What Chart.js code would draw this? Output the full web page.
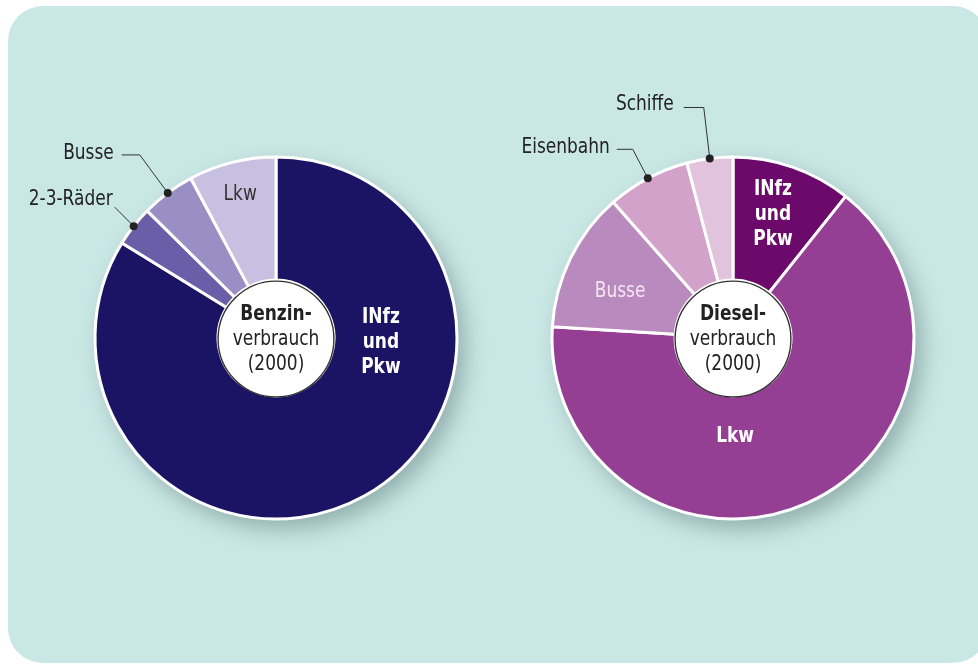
<!DOCTYPE html>
<html>
<head>
<meta charset="utf-8">
<script src="https://cdn.jsdelivr.net/npm/chart.js@4/dist/chart.umd.min.js"></script>
<style>
  html, body { margin:0; padding:0; background:#fff; }
  body { width:978px; height:664px; position:relative; overflow:hidden; }
  .panel { position:absolute; left:8px; top:6px; width:980px; height:657px; background:#c9e7e5; border-radius:35px; }
  .pie { position:absolute; top:58px; width:560px; height:560px; }
  #pieBenzin { left:-4px; }
  #pieDiesel { left:453px; }
</style>
</head>
<body>
<div class="panel"></div>
<div class="pie" id="pieBenzin"><canvas id="benzin"></canvas></div>
<div class="pie" id="pieDiesel"><canvas id="diesel"></canvas></div>
<script>
// ---- Daten (Anteile in %) ----
const benzinLabels = ['INfz und Pkw', '2-3-Räder', 'Busse', 'Lkw'];
const benzinValues = [83.8, 3.6, 4.8, 7.8];
const benzinColors = ['#1b1464', '#6b5ea8', '#9a8fc4', '#c8c0e0'];

const dieselLabels = ['INfz und Pkw', 'Lkw', 'Busse', 'Eisenbahn', 'Schiffe'];
const dieselValues = [10.7, 65.3, 12.5, 7.4, 4.1];
const dieselColors = ['#6b0a6b', '#943e94', '#b98abd', '#d2a2ca', '#e2c3dd'];

const FONT = '"Liberation Sans Narrow", "DejaVu Sans Condensed", "Roboto", sans-serif';
const SQUEEZE = 0.9;   // schmalere Schrift nachahmen

// Beschriftung je Segment: inside = [Winkel°, Radius] ab Mitte, outside = Führungslinie
const benzinText = [
  {inside:[92.7, 105], lines:['INfz','und','Pkw'], bold:true, color:'#fff'},
  {outside:{elbow:[-19,-19], end:[-19,-19], gap:2, dy:-8}, text:'2-3-Räder'},
  {outside:{elbow:[-28,-38], end:[-46,-38], gap:8, dy:-1}, text:'Busse'},
  {inside:[-14, 148], lines:['Lkw'], bold:false, color:'#333'}
];
const dieselText = [
  {inside:[17.9, 130], lines:['INfz','und','Pkw'], bold:true, color:'#fff'},
  {inside:[178.8, 99], lines:['Lkw'], bold:true, color:'#fff'},
  {inside:[-67.8, 122], lines:['Busse'], bold:false, color:'#f3e6f2'},
  {outside:{elbow:[-15,-29], end:[-31,-29], gap:7, dy:-2}, text:'Eisenbahn'},
  {outside:{elbow:[-6,-51], end:[-26,-51], gap:10, dy:-3}, text:'Schiffe'}
];

function drawText(ctx, txt, x, y, align, bold, color) {
  ctx.save();
  ctx.translate(x, y);
  ctx.scale(SQUEEZE, 1);
  ctx.font = (bold ? 'bold ' : '') + '21px ' + FONT;
  ctx.textAlign = align;
  ctx.textBaseline = 'middle';
  ctx.fillStyle = color;
  ctx.fillText(txt, 0, 0);
  ctx.restore();
}

function labelPlugin(texts, centerLines) {
  return {
    id:'labels',
    beforeDatasetsDraw(chart) {
      const arc = chart.getDatasetMeta(0).data[0];
      const ctx = chart.ctx;
      ctx.save();
      ctx.shadowColor = 'rgba(40,70,70,0.35)';
      ctx.shadowBlur = 22;
      ctx.shadowOffsetX = 8;
      ctx.shadowOffsetY = 10;
      ctx.fillStyle = '#fff';
      ctx.beginPath();
      ctx.arc(arc.x, arc.y, arc.outerRadius, 0, Math.PI*2);
      ctx.fill();
      ctx.restore();
    },
    afterDatasetsDraw(chart) {
      const ctx = chart.ctx;
      const arcs = chart.getDatasetMeta(0).data;
      const cx = arcs[0].x, cy = arcs[0].y;
      ctx.save();
      texts.forEach((t, i) => {
        const a = arcs[i];
        if (t.inside) {
          const ang = t.inside[0] * Math.PI / 180;
          const x = cx + t.inside[1] * Math.sin(ang);
          const y = cy - t.inside[1] * Math.cos(ang);
          const n = t.lines.length;
          t.lines.forEach((l, k) => drawText(ctx, l, x, y + (k - (n-1)/2) * 25, 'center', t.bold, t.color));
        } else {
          const mid = (a.startAngle + a.endAngle) / 2;
          const dx = cx + a.outerRadius * Math.cos(mid);
          const dy = cy + a.outerRadius * Math.sin(mid);
          const o = t.outside;
          ctx.strokeStyle = '#333';
          ctx.lineWidth = 1;
          ctx.beginPath();
          ctx.moveTo(dx, dy);
          ctx.lineTo(dx + o.elbow[0], dy + o.elbow[1]);
          ctx.lineTo(dx + o.end[0], dy + o.end[1]);
          ctx.stroke();
          ctx.fillStyle = '#222';
          ctx.beginPath();
          ctx.arc(dx, dy, 4, 0, Math.PI*2);
          ctx.fill();
          drawText(ctx, t.text, dx + o.end[0] - o.gap, dy + o.end[1] + o.dy, 'right', false, '#222');
        }
      });
      // weißer Mittelkreis
      ctx.beginPath();
      ctx.arc(cx, cy + 1, arcs[0].innerRadius, 0, Math.PI*2);
      ctx.fillStyle = '#fff';
      ctx.fill();
      ctx.strokeStyle = '#333';
      ctx.lineWidth = 1.4;
      ctx.stroke();
      centerLines.forEach((l, k) => drawText(ctx, l, cx, cy - 23 + k * 25, 'center', k === 0, '#222'));
      ctx.restore();
    }
  };
}

function makePie(id, labels, values, colors, texts, centerLines) {
  return new Chart(document.getElementById(id), {
    type:'doughnut',
    data:{ labels:labels, datasets:[{ data:values, backgroundColor:colors, borderColor:'#fff', borderWidth:3 }] },
    options:{
      responsive:true,
      maintainAspectRatio:false,
      animation:false,
      radius:181,
      cutout:'32%',
      layout:{ padding:0 },
      plugins:{ legend:{display:false}, tooltip:{enabled:false} }
    },
    plugins:[labelPlugin(texts, centerLines)]
  });
}

makePie('benzin', benzinLabels, benzinValues, benzinColors, benzinText, ['Benzin-', 'verbrauch', '(2000)']);
makePie('diesel', dieselLabels, dieselValues, dieselColors, dieselText, ['Diesel-', 'verbrauch', '(2000)']);
</script>
</body>
</html>
